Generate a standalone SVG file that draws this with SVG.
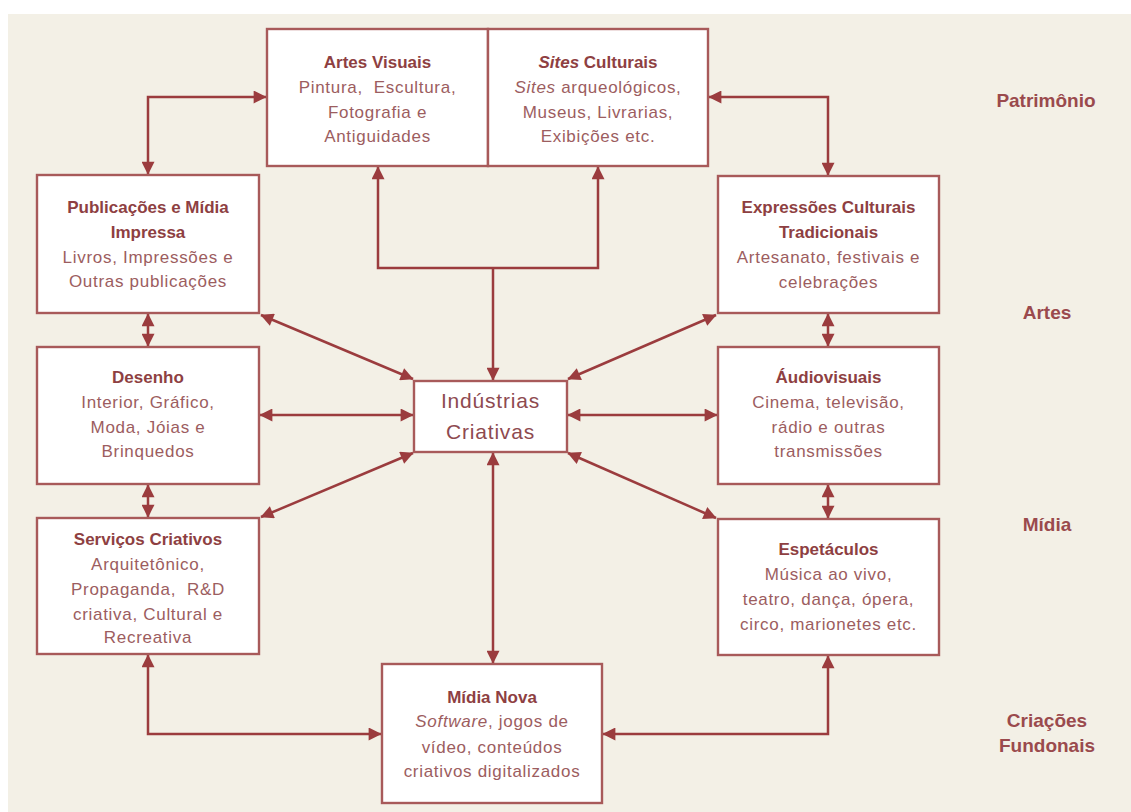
<svg xmlns="http://www.w3.org/2000/svg" width="1131" height="812" viewBox="0 0 1131 812">
<style>
.box{fill:#ffffff;stroke:#a85a5a;stroke-width:2.4}
.t{font-family:"Liberation Sans",Arial,sans-serif;font-size:17px;font-weight:bold;fill:#8e3f42;text-anchor:middle}
.b{font-family:"Liberation Sans",Arial,sans-serif;font-size:17px;fill:#9c5d60;text-anchor:middle;letter-spacing:0.7px;white-space:pre}
.c{font-family:"Liberation Sans",Arial,sans-serif;font-size:21px;fill:#8e4a50;text-anchor:middle;letter-spacing:0.8px}
.lbl{font-family:"Liberation Sans",Arial,sans-serif;font-size:19px;font-weight:bold;fill:#9a4a4d;text-anchor:middle}
.con{fill:none;stroke:#9b3c3e;stroke-width:2.5}
.i{font-style:italic}
</style>
<defs>
<marker id="ah" viewBox="0 0 10 10" refX="9.5" refY="5" markerWidth="14" markerHeight="13" markerUnits="userSpaceOnUse" orient="auto-start-reverse">
<path d="M0,0 L10,5 L0,10 z" fill="#9b3c3e"/>
</marker>
</defs>
<rect x="0" y="0" width="1131" height="812" fill="#ffffff"/>
<rect x="8" y="14" width="1123" height="798" fill="#f3f0e6"/>

<g id="connectors">
<path class="con" d="M148,174 V97 H266" marker-start="url(#ah)" marker-end="url(#ah)"/>
<path class="con" d="M709,97 H828 V175" marker-start="url(#ah)" marker-end="url(#ah)"/>
<path class="con" d="M378,167 V268 H598 V167" marker-start="url(#ah)" marker-end="url(#ah)"/>
<path class="con" d="M493,268 V380" marker-end="url(#ah)"/>
<path class="con" d="M261,315 L413,379" marker-start="url(#ah)" marker-end="url(#ah)"/>
<path class="con" d="M716,315 L568,379" marker-start="url(#ah)" marker-end="url(#ah)"/>
<path class="con" d="M260,415 H413" marker-start="url(#ah)" marker-end="url(#ah)"/>
<path class="con" d="M717,415 H568" marker-start="url(#ah)" marker-end="url(#ah)"/>
<path class="con" d="M261,517 L413,453" marker-start="url(#ah)" marker-end="url(#ah)"/>
<path class="con" d="M716,518 L568,453" marker-start="url(#ah)" marker-end="url(#ah)"/>
<path class="con" d="M493,453 V663" marker-start="url(#ah)" marker-end="url(#ah)"/>
<path class="con" d="M148,655 V734 H381" marker-start="url(#ah)" marker-end="url(#ah)"/>
<path class="con" d="M828,656 V734 H603" marker-start="url(#ah)" marker-end="url(#ah)"/>
<path class="con" d="M148,314 V346" marker-start="url(#ah)" marker-end="url(#ah)"/>
<path class="con" d="M148,485 V517" marker-start="url(#ah)" marker-end="url(#ah)"/>
<path class="con" d="M828,314 V346" marker-start="url(#ah)" marker-end="url(#ah)"/>
<path class="con" d="M828,485 V518" marker-start="url(#ah)" marker-end="url(#ah)"/>
</g>

<g id="artes-visuais">
<rect class="box" x="267" y="29" width="221" height="137"/>
<text class="t" x="377.5" y="68">Artes Visuais</text>
<text class="b" x="377.5" y="93" xml:space="preserve">Pintura,  Escultura,</text>
<text class="b" x="377.5" y="118">Fotografia e</text>
<text class="b" x="377.5" y="142">Antiguidades</text>
</g>

<g id="sites-culturais">
<rect class="box" x="488" y="29" width="220" height="137"/>
<text class="t" x="598" y="68"><tspan class="i">Sites</tspan> Culturais</text>
<text class="b" x="598" y="93"><tspan class="i">Sites</tspan> arqueológicos,</text>
<text class="b" x="598" y="118">Museus, Livrarias,</text>
<text class="b" x="598" y="142">Exibições etc.</text>
</g>

<g id="publicacoes">
<rect class="box" x="37" y="175" width="222" height="138"/>
<text class="t" x="148" y="213">Publicações e Mídia</text>
<text class="t" x="148" y="238">Impressa</text>
<text class="b" x="148" y="263">Livros, Impressões e</text>
<text class="b" x="148" y="287">Outras publicações</text>
</g>

<g id="expressoes">
<rect class="box" x="718" y="176" width="221" height="137"/>
<text class="t" x="828.5" y="213">Expressões Culturais</text>
<text class="t" x="828.5" y="238">Tradicionais</text>
<text class="b" x="828.5" y="263">Artesanato, festivais e</text>
<text class="b" x="828.5" y="288">celebrações</text>
</g>

<g id="desenho">
<rect class="box" x="37" y="347" width="222" height="137"/>
<text class="t" x="148" y="383">Desenho</text>
<text class="b" x="148" y="408">Interior, Gráfico,</text>
<text class="b" x="148" y="433">Moda, Jóias e</text>
<text class="b" x="148" y="457">Brinquedos</text>
</g>

<g id="audiovisuais">
<rect class="box" x="718" y="347" width="221" height="137"/>
<text class="t" x="828.5" y="383">Áudiovisuais</text>
<text class="b" x="828.5" y="408">Cinema, televisão,</text>
<text class="b" x="828.5" y="433">rádio e outras</text>
<text class="b" x="828.5" y="457">transmissões</text>
</g>

<g id="industrias-criativas">
<rect class="box" x="414" y="381" width="153" height="71"/>
<text class="c" x="490.5" y="408">Indústrias</text>
<text class="c" x="490.5" y="439">Criativas</text>
</g>

<g id="servicos">
<rect class="box" x="37" y="518" width="222" height="136"/>
<text class="t" x="148" y="545">Serviços Criativos</text>
<text class="b" x="148" y="570">Arquitetônico,</text>
<text class="b" x="148" y="595" xml:space="preserve">Propaganda,  R&amp;D</text>
<text class="b" x="148" y="620">criativa, Cultural e</text>
<text class="b" x="148" y="643">Recreativa</text>
</g>

<g id="espetaculos">
<rect class="box" x="718" y="519" width="221" height="136"/>
<text class="t" x="828.5" y="555">Espetáculos</text>
<text class="b" x="828.5" y="580">Música ao vivo,</text>
<text class="b" x="828.5" y="605">teatro, dança, ópera,</text>
<text class="b" x="828.5" y="630">circo, marionetes etc.</text>
</g>

<g id="midia-nova">
<rect class="box" x="382" y="664" width="220" height="139"/>
<text class="t" x="492" y="703">Mídia Nova</text>
<text class="b" x="492" y="727"><tspan class="i">Software</tspan>, jogos de</text>
<text class="b" x="492" y="753">vídeo, conteúdos</text>
<text class="b" x="492" y="777">criativos digitalizados</text>
</g>

<g id="labels">
<text class="lbl" x="1046" y="107">Patrimônio</text>
<text class="lbl" x="1047" y="319">Artes</text>
<text class="lbl" x="1047" y="531">Mídia</text>
<text class="lbl" x="1047" y="727">Criações</text>
<text class="lbl" x="1047" y="752">Fundonais</text>
</g>
</svg>
